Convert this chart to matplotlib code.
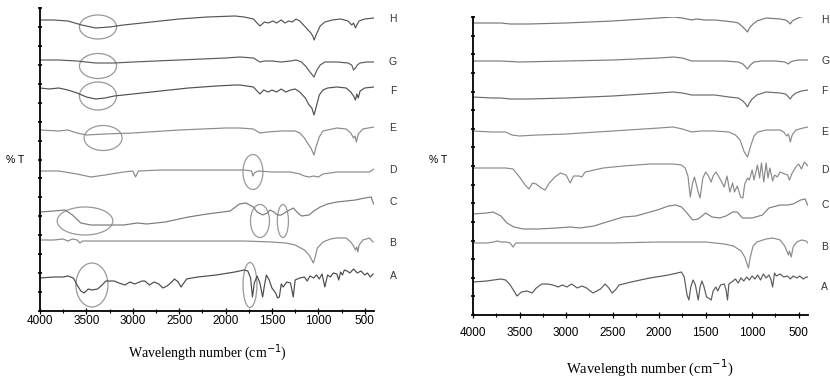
import numpy as np
import matplotlib.pyplot as plt
from matplotlib.patches import Ellipse

plt.rcParams['font.family'] = ['Liberation Sans', 'DejaVu Sans']

# ---- left panel spectra: (wavenumber cm-1, relative %T) ----
left_H = [(4000, 0), (3850, 0), (3700, -1), (3550, -5), (3400, -8), (3250, -7), (3100, -5),
          (2800, -2), (2500, 1), (2200, 3), (1900, 4), (1800, 3), (1700, 1), (1630, -6),
          (1580, -2), (1540, -3), (1490, -1), (1450, -3), (1400, 0), (1360, -3), (1320, -1),
          (1280, -2), (1240, 1), (1200, -1), (1150, -6), (1110, -10), (1080, -13), (1060, -16),
          (1045, -20), (1020, -14), (980, -6), (930, -2), (850, 0), (760, 1), (680, -1),
          (640, -5), (620, -3), (600, -8), (580, -4), (560, -1), (500, 1), (400, 2)]
left_G = [(4000, 0), (3800, 0), (3600, -1), (3400, -3), (3200, -3), (3000, -2), (2500, 0),
          (2000, 2), (1845, 3), (1700, 2), (1630, -2), (1580, -1), (1500, -1), (1400, -2),
          (1300, -1), (1240, 0), (1180, -2), (1130, -7), (1090, -12), (1047, -17), (1015, -10),
          (980, -5), (930, -2), (800, -2), (680, -3), (640, -5), (620, -10), (600, -8),
          (580, -5), (550, -3), (480, -2), (400, -2)]
left_F = [(4000, 0), (3900, -1), (3800, 0), (3700, -2), (3600, -5), (3500, -9), (3400, -11),
          (3300, -10), (3200, -8), (3000, -6), (2700, -3), (2400, 0), (2100, 2), (1900, 3),
          (1845, 3), (1700, 1), (1630, -6), (1590, -2), (1540, -4), (1500, -2), (1450, -4),
          (1400, -1), (1350, -4), (1300, -2), (1250, -1), (1200, -4), (1140, -10), (1100, -17),
          (1070, -20), (1047, -27), (1020, -18), (990, -7), (950, -2), (900, 0), (800, 1),
          (700, 0), (650, -4), (620, -8), (600, -12), (585, -6), (570, -10), (550, -3),
          (500, 0), (400, 1)]
left_E = [(4000, 0), (3800, -1), (3700, 0), (3600, -3), (3500, -5), (3300, -4), (3000, -3),
          (2500, 0), (2000, 2), (1845, 2), (1700, 1), (1630, -3), (1550, -2), (1400, -1),
          (1250, -1), (1200, -3), (1150, -8), (1110, -14), (1080, -18), (1047, -25),
          (1025, -17), (990, -7), (950, -1), (800, 2), (700, 1), (650, -3), (620, -8),
          (605, -6), (590, -12), (570, -4), (520, 1), (400, 3)]
left_D = [(4000, 0), (3800, 0), (3600, -3), (3450, -6), (3300, -4), (3100, -1), (3000, 0),
          (2970, -6), (2940, 0), (2700, 1), (2400, 1), (2000, 1), (1800, 1), (1720, 0),
          (1705, -5), (1690, -2), (1650, 0), (1500, -1), (1300, -1), (1200, -3), (1150, -5),
          (1100, -6), (1050, -5), (1000, -6), (950, -3), (800, -1), (600, -1), (450, -1),
          (400, 2)]
left_C = [(4000, 0), (3850, 1), (3730, 2), (3650, -3), (3560, -11), (3450, -13), (3300, -13),
          (3100, -13), (2950, -11), (2850, -12), (2650, -10), (2400, -5), (2200, -2),
          (1950, 1), (1850, 8), (1780, 9), (1700, 5), (1660, 0), (1600, -3), (1550, -1),
          (1520, 2), (1480, 0), (1440, -3), (1400, -3), (1330, 1), (1270, 4), (1220, -1),
          (1180, -4), (1100, -3), (1050, 1), (980, 5), (900, 8), (800, 10), (700, 11),
          (600, 12), (500, 14), (430, 15), (405, 8)]
left_B = [(4000, 0), (3850, 0), (3750, 1), (3700, -1), (3650, 1), (3600, 0), (3570, -3),
          (3540, -1), (3400, -1), (3000, -1), (2500, -1), (2000, -1), (1800, -1), (1500, -2),
          (1350, -3), (1250, -5), (1150, -10), (1100, -15), (1070, -20), (1055, -23),
          (1040, -19), (1010, -8), (950, -2), (870, 1), (800, 2), (700, 2), (650, -2),
          (620, -6), (600, -10), (585, -7), (575, -12), (560, -5), (520, 0), (450, 2), (410, -2)]
left_A = [(4000, 0), (3850, 1), (3750, 1), (3700, 2), (3640, 0), (3600, -7), (3560, -13),
          (3525, -15), (3480, -11), (3440, -12), (3380, -11), (3330, -7), (3290, -3),
          (3200, -3), (3150, -5), (3085, -7), (3030, -4), (2980, -6), (2900, -3), (2870, -3),
          (2820, -7), (2770, -4), (2720, -6), (2675, -10), (2630, -8), (2580, -4), (2550, -1),
          (2510, -4), (2480, -9), (2450, -5), (2420, -1), (2300, 1), (2100, 3), (1900, 6),
          (1800, 8), (1760, 7), (1730, 0), (1710, -19), (1690, -5), (1660, 2), (1630, -5),
          (1600, -19), (1580, -7), (1560, 3), (1530, -2), (1500, -10), (1460, -15),
          (1440, -20), (1420, -19), (1400, -6), (1380, -9), (1340, -4), (1300, -5),
          (1270, -19), (1250, -2), (1200, 0), (1150, 1), (1120, -3), (1090, 2), (1050, 0),
          (1020, 3), (990, -1), (960, 4), (930, -9), (900, 3), (870, 1), (840, 5), (800, 4),
          (780, -2), (760, 6), (740, 3), (720, 8), (690, 7), (660, 5), (620, 9), (580, 5),
          (540, 7), (500, 3), (470, 5), (440, 1), (410, 4)]

# ---- right panel spectra ----
right_H = [(4000, 0), (3800, 0), (3700, 0), (3600, -1), (3400, -1), (3000, 0), (2500, 2),
           (2000, 5), (1850, 6), (1750, 5), (1650, 3), (1600, 4), (1500, 3), (1400, 3),
           (1300, 2), (1200, 1), (1150, 0), (1100, -4), (1070, -7), (1050, -9), (1030, -5),
           (990, -1), (950, 2), (850, 5), (700, 4), (640, 3), (610, 1), (590, -1), (570, 2),
           (530, 4), (480, 6), (420, 7), (400, 7)]
right_G = [(4000, 0), (3700, 0), (3500, -1), (3000, 0), (2500, 1), (2000, 3), (1850, 4),
           (1750, 3), (1650, 0), (1500, 0), (1300, 0), (1150, -1), (1100, -3), (1050, -8),
           (1020, -4), (980, -1), (900, 0), (750, 0), (650, -1), (610, -3), (590, -1),
           (560, 0), (500, 1), (400, 1)]
right_F = [(4000, 1), (3800, 0), (3700, 0), (3600, -1), (3400, -1), (3000, 0), (2500, 2),
           (2000, 5), (1850, 6), (1750, 5), (1650, 3), (1550, 3), (1400, 3), (1250, 1),
           (1150, 0), (1100, -3), (1070, -6), (1050, -9), (1030, -5), (1000, -1), (950, 3),
           (850, 6), (700, 5), (640, 4), (610, 1), (590, -1), (570, 2), (530, 5), (470, 7),
           (400, 8)]
right_E = [(4000, 1), (3800, 0), (3650, 0), (3580, -3), (3500, -4), (3300, -3), (3000, -2),
           (2500, 1), (2000, 4), (1850, 5), (1750, 3), (1650, 0), (1550, 1), (1400, 1),
           (1250, 0), (1180, -3), (1130, -8), (1085, -20), (1050, -25), (1020, -15), (980, -4),
           (940, 0), (850, 2), (700, 2), (660, 0), (630, -4), (610, -2), (590, -10), (570, -3),
           (530, 2), (450, 4), (400, 5)]
right_D = [(4000, 0), (3800, 0), (3650, 0), (3570, -1), (3500, -9), (3440, -17), (3400, -21),
           (3360, -15), (3320, -16), (3270, -20), (3225, -22), (3180, -15), (3120, -9),
           (3060, -5), (3000, -7), (2955, -15), (2920, -8), (2860, -8), (2830, -9), (2795, -4),
           (2600, 0), (2385, 2), (2100, 4), (1850, 4), (1760, 3), (1720, 0), (1690, -8),
           (1665, -29), (1640, -15), (1620, -9), (1580, -24), (1560, -30), (1530, -10),
           (1500, -4), (1470, -8), (1440, -14), (1420, -8), (1390, -4), (1350, -10),
           (1300, -19), (1270, -8), (1240, -24), (1210, -15), (1190, -24), (1160, -18),
           (1125, -29), (1100, -30), (1080, -16), (1050, -10), (1030, -12), (1000, -2),
           (980, -12), (943, 3), (920, -10), (900, 5), (875, -14), (850, 5), (830, -10),
           (810, 0), (780, -13), (760, -7), (730, -9), (700, -4), (650, -6), (620, -7),
           (600, -12), (570, -5), (530, 1), (500, 4), (470, -1), (440, 6), (410, 3), (400, 2)]
right_C = [(4000, -1), (3850, 0), (3785, 1), (3700, -3), (3635, -10), (3560, -14), (3460, -16),
           (3300, -16), (3100, -15), (2955, -14), (2850, -15), (2700, -13), (2600, -10),
           (2385, -4), (2250, -3), (2020, 3), (1900, 7), (1820, 8), (1760, 6), (1700, 0),
           (1640, -7), (1580, -6), (1500, 0), (1430, -4), (1350, -5), (1280, -3), (1210, 1),
           (1160, 1), (1105, -5), (1000, -5), (890, -2), (820, 5), (700, 8), (620, 8),
           (560, 9), (480, 13), (430, 14), (405, 8)]
right_B = [(4000, 0), (3850, 0), (3780, 1), (3740, 2), (3700, 1), (3640, 1), (3600, 0),
           (3570, -4), (3540, 0), (3400, 0), (3000, 0), (2500, 0), (2000, 1), (1800, 1),
           (1500, 1), (1300, -1), (1200, -3), (1120, -8), (1080, -14), (1040, -25),
           (1020, -14), (990, -3), (950, 1), (850, 4), (780, 5), (700, 3), (650, -3),
           (610, -12), (600, -8), (580, -14), (560, -4), (520, 1), (470, 3), (420, 2), (400, 0)]
right_A = [(4000, 0), (3850, 1), (3780, 2), (3700, 3), (3650, 2), (3600, -3), (3560, -9),
           (3527, -14), (3480, -10), (3420, -9), (3365, -11), (3320, -6), (3260, -2),
           (3200, -2), (3140, -3), (3085, -5), (3040, -3), (2990, -5), (2940, -2), (2880, -6),
           (2830, -4), (2780, -6), (2710, -11), (2670, -9), (2630, -7), (2580, -2), (2540, -6),
           (2505, -11), (2470, -8), (2430, -3), (2300, 0), (2100, 4), (1900, 7), (1805, 9),
           (1760, 10), (1730, 5), (1700, -13), (1680, -18), (1660, -5), (1635, 2), (1610, -3),
           (1580, -18), (1560, -5), (1540, 1), (1520, -4), (1490, -15), (1470, -16),
           (1440, -18), (1420, -9), (1390, -5), (1370, -9), (1340, -3), (1300, -2), (1280, -8),
           (1265, -18), (1250, -2), (1220, 0), (1180, 3), (1150, -1), (1120, 4), (1090, 1),
           (1060, 5), (1030, 2), (1000, 6), (970, 3), (940, 7), (910, 2), (880, 8), (850, 4),
           (820, 7), (800, 3), (780, -5), (760, 9), (740, 6), (700, 8), (660, 5), (620, 6),
           (590, 3), (560, 6), (520, 4), (490, 6), (450, 3), (420, 5), (400, 5)]

names = ['H', 'G', 'F', 'E', 'D', 'C', 'B', 'A']
left_traces = [left_H, left_G, left_F, left_E, left_D, left_C, left_B, left_A]
right_traces = [right_H, right_G, right_F, right_E, right_D, right_C, right_B, right_A]

# circled regions on the left panel: (trace, centre wn, width cm-1, height)
circles = [('H', 3375, 400, 24), ('G', 3375, 400, 25), ('F', 3375, 400, 28),
           ('E', 3320, 410, 25), ('D', 1705, 215, 35), ('C', 3515, 600, 28),
           ('C', 1629, 205, 33), ('C', 1382, 120, 33), ('A', 3440, 345, 44),
           ('A', 1737, 150, 45)]

# stacking positions (data units) and line greys
left_off = [291, 251, 223, 181, 140, 99, 71, 33]
left_dy = {'H': -7, 'G': -6, 'F': -8, 'E': -8, 'D': -1, 'C': -9, 'B': 0, 'A': -7}
right_off = [292, 254, 217, 183, 147, 102, 72, 33]
left_col = ['#555555', '#5a5a5a', '#505050', '#8a8a8a', '#8a8a8a', '#7a7a7a', '#8a8a8a', '#4a4a4a']
right_col = ['#777777', '#7a7a7a', '#6a6a6a', '#8a8a8a', '#8a8a8a', '#808080', '#8a8a8a', '#5a5a5a']

W, H = 830, 383
fig = plt.figure(figsize=(W / 100, H / 100), dpi=100)
axL = fig.add_axes([40 / W, 1 - 311 / H, 334 / W, 303 / H])
axR = fig.add_axes([473 / W, 1 - 315 / H, 335 / W, 298 / H])


def style(ax, ytop, pad):
    ax.set_xlim(4000, 400)
    ax.set_ylim(0, ytop)
    for s in ['top', 'right']:
        ax.spines[s].set_visible(False)
    ax.spines['left'].set_linewidth(1.3)
    ax.spines['bottom'].set_linewidth(1.3)
    ax.set_xticks(np.arange(4000, 499, -500))
    ax.set_xticks(np.arange(3750, 400, -500), minor=True)
    ax.set_yticks(np.arange(0, ytop + 1, ytop / 16))
    ax.set_yticklabels([])
    ax.tick_params(axis='x', direction='inout', length=4, width=0.9, labelsize=8.5, pad=pad)
    ax.tick_params(axis='x', which='minor', direction='inout', length=3, width=0.8)
    ax.tick_params(axis='y', direction='inout', length=2.5, width=1.2)


style(axL, 303, 1)
style(axR, 298, 7)

for name, tr, off, c in zip(names, left_traces, left_off, left_col):
    wn = [p[0] for p in tr]
    t = [p[1] + off for p in tr]
    axL.plot(wn, t, color=c, lw=0.85)
for name, tr, off, c in zip(names, right_traces, right_off, right_col):
    wn = [p[0] for p in tr]
    t = [p[1] + off for p in tr]
    axR.plot(wn, t, color=c, lw=0.85)

for name, cx, w, h in circles:
    off = left_off[names.index(name)]
    axL.add_patch(Ellipse((cx, off + left_dy[name]), w, h, fill=False,
                          edgecolor='#999999', lw=0.9))

left_lab_y = [19, 62, 91, 128, 170, 202, 243, 276]
right_lab_y = [20, 61, 91, 132, 170, 205, 247, 287]
for n, y in zip(names, left_lab_y):
    fig.text(393 / W, 1 - y / H, n, fontsize=7.5, color='#333333', ha='center', va='center')
for n, y in zip(names, right_lab_y):
    fig.text(821 / W, 1 - y / H, n, fontsize=7.5, color='#333333', ha='left', va='center')

fig.text(15 / W, 1 - 160 / H, '% T', fontsize=7.5, ha='center', va='center')
fig.text(438 / W, 1 - 160 / H, '% T', fontsize=7.5, ha='center', va='center')

fig.text(207 / W, 1 - 353 / H, 'Wavelength number (cm$^{-1}$)', fontsize=10,
         family=['Liberation Serif', 'DejaVu Serif'], ha='center', va='center')
fig.text(650 / W, 1 - 368 / H, 'Wavelength number (cm$^{-1}$)', fontsize=10.5,
         family=['Liberation Serif', 'DejaVu Serif'], ha='center', va='center')

fig.savefig('out.png', dpi=100)
